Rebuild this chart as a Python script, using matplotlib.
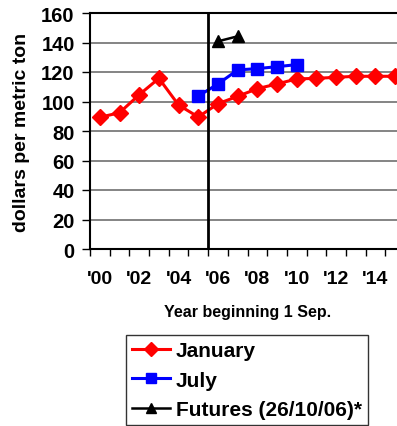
#line chart of wheat-style price forecasts, January vs July vs futures
import matplotlib
matplotlib.use('Agg')
import matplotlib.pyplot as plt
import numpy as np

plt.rcParams['font.family'] = ['Liberation Sans', 'DejaVu Sans']
plt.rcParams['font.weight'] = 'bold'

#data:
years = ["'00", "'01", "'02", "'03", "'04", "'05", "'06", "'07",
         "'08", "'09", "'10", "'11", "'12", "'13", "'14", "'15"]
january = [89.3, 92.4, 104.6, 115.7, 97.6, 89.5, 98.5, 103.5,
           108.7, 111.9, 115.3, 115.7, 116.4, 117.1, 117.1, 117.1]
july_years = ["'05", "'06", "'07", "'08", "'09", "'10"]
july = [103.7, 111.9, 121.4, 122.3, 123.6, 125.0]
fut_years = ["'06", "'07"]
futures = [140.8, 144.2]

x = np.arange(len(years))
pos = {y: i for i, y in enumerate(years)}

plt.close('all')
fig = plt.figure(figsize=(3.97, 4.27), dpi=100)
ax = fig.add_axes([90/397, 1-250/427, 315/397, 236/427])

ax.plot(x, january, color='#ff0000', marker='D', ms=8, lw=2.2, label='January')
ax.plot([pos[y] for y in july_years], july, color='#0000ff', marker='s', ms=8.5, lw=2.2, label='July')
ax.plot([pos[y] for y in fut_years], futures, color='black', marker='^', ms=9, lw=1.8,
        label='Futures (26/10/06)*')

ax.axvline(5.5, color='black', lw=2)

ax.set_xlim(-0.5, 15.5)
ax.set_ylim(0, 160)
ax.set_yticks(np.arange(0, 161, 20))
ax.yaxis.grid(True, color='#707070', lw=1.2)
ax.set_axisbelow(True)

ax.set_xticks(np.arange(-0.5, 16, 1))
ax.set_xticklabels([])
ax.set_xticks(x[::2], years[::2], minor=True)
ax.tick_params(axis='x', which='major', length=5, width=1, direction='out')
ax.tick_params(axis='x', which='minor', length=0, pad=15, labelsize=14)
ax.tick_params(axis='y', length=6, width=1, labelsize=14.5, pad=5)

for s in ax.spines.values():
    s.set_color('black')
    s.set_linewidth(1.5)

ax.set_xlabel('Year beginning 1 Sep.', fontsize=11.5, fontweight='bold', labelpad=12)
ax.set_ylabel('dollars per metric ton', fontsize=14, fontweight='bold', labelpad=8)

leg = fig.legend(loc='upper left', bbox_to_anchor=(126/397, 1-336/427), fontsize=15,
                 frameon=True, fancybox=False, edgecolor='black', borderpad=0.3,
                 handlelength=1.8, handletextpad=0.3, labelspacing=0.5, borderaxespad=0)
leg.get_frame().set_linewidth(1)
for h in leg.legend_handles:
    h.set_markersize(7)

fig.savefig('out.png', dpi=100)
